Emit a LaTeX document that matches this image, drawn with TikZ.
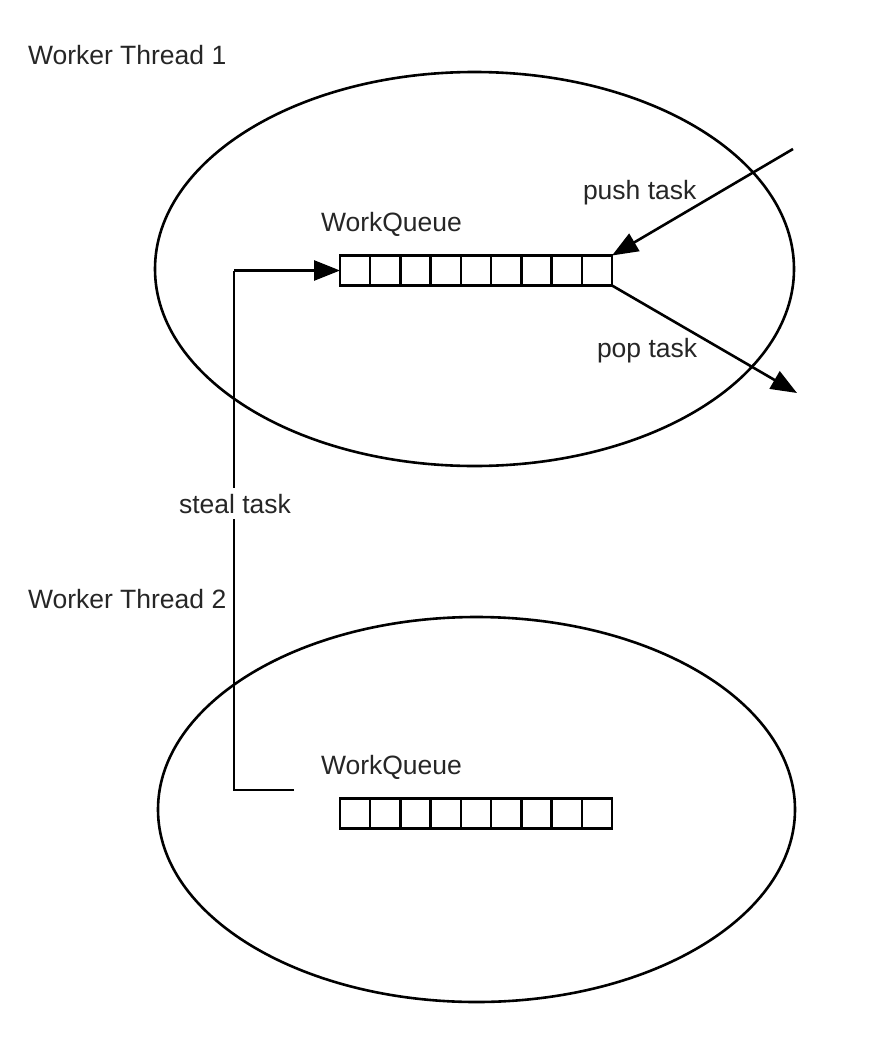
\documentclass[tikz,border=0pt]{standalone}
\usepackage{fontspec}
\setmainfont{Liberation Sans}
\usetikzlibrary{shapes.geometric,arrows.meta}
\begin{document}
\begin{tikzpicture}[x=1pt,y=-1pt,
  every node/.style={inner sep=0pt, outer sep=0pt},
  lbl/.style={anchor=base west, font=\fontsize{26.5}{30}\selectfont, text=black!85},
  thread/.style={ellipse, draw, line width=2.6pt},
  queue/.style={draw, line width=2.4pt, minimum width=272pt, minimum height=30pt, anchor=west},
  arr/.style={line width=2.6pt, -{Triangle[length=26pt,width=20pt]}},
  conn/.style={line width=2.6pt}]
\useasboundingbox (0,0) rectangle (896,1060);
% threads
\node[thread, minimum width=639pt, minimum height=394pt] (e1) at (474.5,269) {};
\node[thread, minimum width=637pt, minimum height=385pt] (e2) at (476.5,809.5) {};
% queues
\node[queue] (q1) at (340,270.5) {};
\node[queue] (q2) at (340,813.5) {};
\foreach \q in {q1,q2}{
  \foreach \i in {1,...,8}{
    \draw[line width=2.4pt] ([xshift=\i*30.22pt]\q.north west) -- ([xshift=\i*30.22pt]\q.south west);
  }
}
% labels
\node[lbl] (t1) at (28,64) {Worker Thread 1};
\node[lbl] (t2) at (28,608) {Worker Thread 2};
\node[lbl] (w1) at (321,231) {WorkQueue};
\node[lbl] (w2) at (321,774) {WorkQueue};
\node[lbl] (push) at (583,199) {push task};
\node[lbl] (pop) at (597,357) {pop task};
% push / pop
\coordinate (pushsrc) at (793,149);
\coordinate (popdst) at (797,393);
\draw[arr] (pushsrc) -- (q1.north east);
\draw[arr] (q1.south east) -- (popdst);
% steal
\coordinate (stealsrc) at (294,790);
\coordinate (bend) at (234,270.5);
\draw[conn] (stealsrc) -| (bend);
\draw[arr] (bend) -- (q1.west);
\node[lbl, anchor=base, fill=white, inner ysep=6pt, inner xsep=0pt] (steal) at (235,513) {steal task};
\end{tikzpicture}
\end{document}
